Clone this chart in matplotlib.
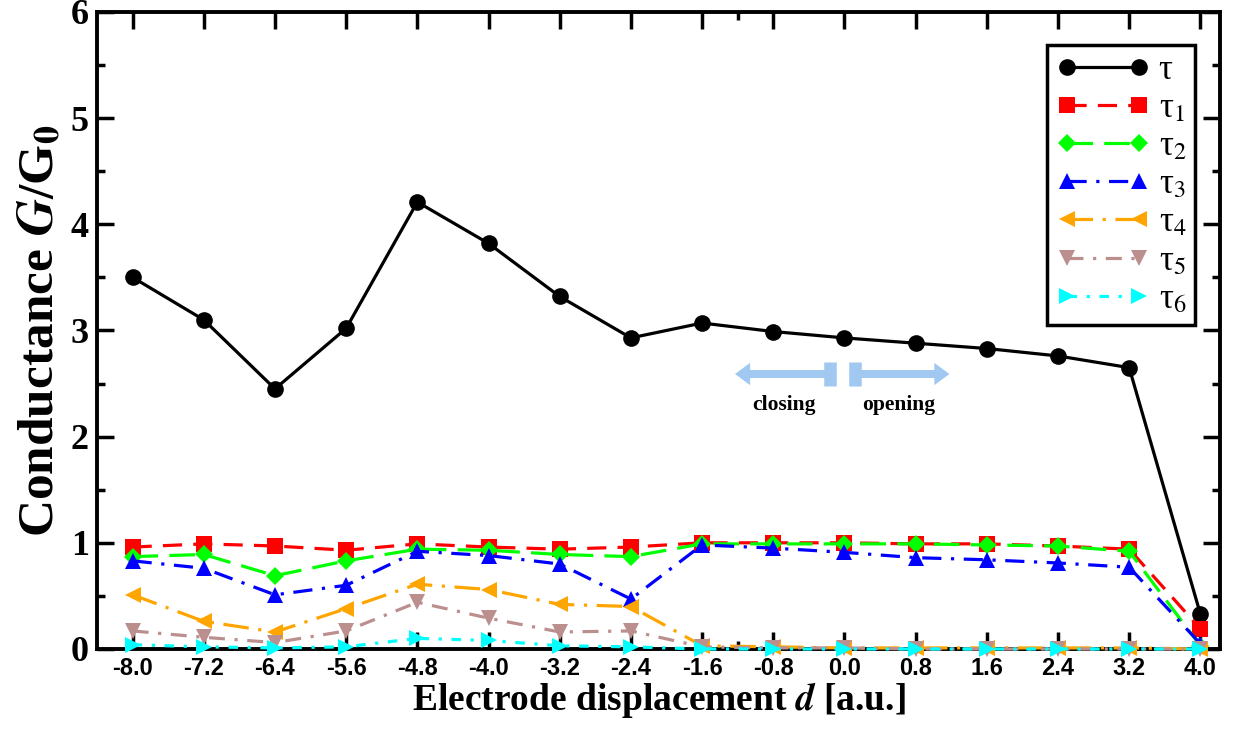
import numpy as np
import matplotlib
matplotlib.use("Agg")
import matplotlib.pyplot as plt
import matplotlib.ticker as ticker

plt.rcParams['mathtext.fontset'] = 'stix'

# electrode displacement d [a.u.]
displacement = [-8.0, -7.2, -6.4, -5.6, -4.8, -4.0, -3.2, -2.4,
                -1.6, -0.8, 0.0, 0.8, 1.6, 2.4, 3.2, 4.0]

# total conductance and eigenchannel transmissions
tau = [3.50, 3.10, 2.45, 3.02, 4.21, 3.82, 3.32, 2.93,
       3.07, 2.99, 2.93, 2.88, 2.83, 2.76, 2.65, 0.33]
tau1 = [0.96, 0.99, 0.97, 0.93, 0.99, 0.96, 0.94, 0.96,
        1.00, 1.00, 1.00, 0.99, 0.99, 0.97, 0.94, 0.19]
tau2 = [0.87, 0.89, 0.69, 0.83, 0.94, 0.93, 0.89, 0.87,
        0.99, 0.99, 0.99, 0.99, 0.98, 0.97, 0.92, 0.03]
tau3 = [0.83, 0.76, 0.51, 0.60, 0.92, 0.88, 0.80, 0.47,
        0.98, 0.95, 0.91, 0.86, 0.84, 0.81, 0.77, 0.05]
tau4 = [0.51, 0.26, 0.16, 0.38, 0.61, 0.56, 0.42, 0.40,
        0.03, 0.02, 0.01, 0.01, 0.01, 0.01, 0.01, 0.00]
tau5 = [0.17, 0.11, 0.06, 0.17, 0.44, 0.29, 0.16, 0.17,
        0.02, 0.01, 0.01, 0.00, 0.00, 0.00, 0.00, 0.00]
tau6 = [0.04, 0.02, 0.01, 0.02, 0.10, 0.08, 0.03, 0.02,
        0.00, 0.00, 0.00, 0.00, 0.00, 0.00, 0.00, 0.00]

series = [
    (tau,  'τ',       'black',     '-',                    'o', 12),
    (tau1, 'τ$_1$',   '#ff0000',   (0, (6, 3.5)),          's', 11),
    (tau2, 'τ$_2$',   '#00ff00',   (0, (8, 3.5)),          'D', 9.5),
    (tau3, 'τ$_3$',   '#0000ff',   (0, (6, 3, 1, 3)),      '^', 12),
    (tau4, 'τ$_4$',   '#ffa500',   (0, (8, 3, 1, 3)),      '<', 12),
    (tau5, 'τ$_5$',   '#bc8f8f',   (0, (5, 3, 1, 3)),      'v', 12),
    (tau6, 'τ$_6$',   '#00ffff',   (0, (3, 3, 1, 3)),      '>', 12),
]

fig = plt.figure(figsize=(12.36, 7.30), dpi=100)
ax = fig.add_axes([0.0785, 0.111, 0.9085, 0.8726])

for vals, lab, col, ls, mk, ms in series:
    ax.plot(displacement, vals, color=col, linestyle=ls, linewidth=2.3,
            marker=mk, markersize=ms, markeredgewidth=0, label=lab,
            clip_on=False, zorder=3)

ax.set_xlim(-8.4, 4.22)
ax.set_ylim(0, 6)

ax.set_xticks(displacement)
ax.set_xticklabels([f"{v:.1f}" for v in displacement],
                   fontfamily='Liberation Sans', fontweight='bold', fontsize=17)
ax.xaxis.set_minor_locator(ticker.FixedLocator([-1.2]))
ax.yaxis.set_minor_locator(ticker.MultipleLocator(0.5))
ax.set_yticks(range(7))
ax.set_yticklabels([str(i) for i in range(7)],
                   fontfamily='Liberation Serif', fontweight='bold', fontsize=26)

ax.tick_params(which='both', direction='in', top=True, right=True, width=2.5)
ax.tick_params(which='major', length=12, pad=6)
ax.tick_params(which='minor', length=6)
for sp in ax.spines.values():
    sp.set_linewidth(2.8)

ax.set_xlabel(r'Electrode displacement $\mathbfit{d}$ [a.u.]',
              fontfamily='Liberation Serif', fontweight='bold', fontsize=27,
              labelpad=0)
ax.set_ylabel(r'Conductance $\mathbfit{G}$/G$_\mathbf{0}$',
              fontfamily='Liberation Serif', fontweight='bold', fontsize=37,
              labelpad=4)

leg = ax.legend(loc='upper right', bbox_to_anchor=(0.978, 0.948),
                borderaxespad=0, numpoints=2, handlelength=2.7,
                prop={'family': 'Liberation Serif', 'size': 25},
                labelspacing=0.15, handletextpad=0.25, borderpad=0.25,
                fancybox=False, framealpha=1)
leg.get_frame().set_edgecolor('black')
leg.get_frame().set_linewidth(2.5)

# closing / opening arrows
arrow_col = '#a0c8f0'
arrow_y = 2.59
ax.arrow(-0.16, arrow_y, -0.9, 0, width=0.075, head_width=0.21,
         head_length=0.17, length_includes_head=False, color=arrow_col,
         linewidth=0, zorder=2)
ax.arrow(0.12, arrow_y, 0.89, 0, width=0.075, head_width=0.21,
         head_length=0.17, length_includes_head=False, color=arrow_col,
         linewidth=0, zorder=2)
ax.plot([-0.16, -0.16], [arrow_y - 0.11, arrow_y + 0.11], color=arrow_col,
        lw=9, solid_capstyle='butt', zorder=2)
ax.plot([0.12, 0.12], [arrow_y - 0.11, arrow_y + 0.11], color=arrow_col,
        lw=9, solid_capstyle='butt', zorder=2)
ax.text(-0.68, 2.30, 'closing', ha='center', va='center',
        fontfamily='Liberation Serif', fontweight='bold', fontsize=15.5)
ax.text(0.61, 2.30, 'opening', ha='center', va='center',
        fontfamily='Liberation Serif', fontweight='bold', fontsize=15.5)

fig.savefig('out.png', dpi=100)
